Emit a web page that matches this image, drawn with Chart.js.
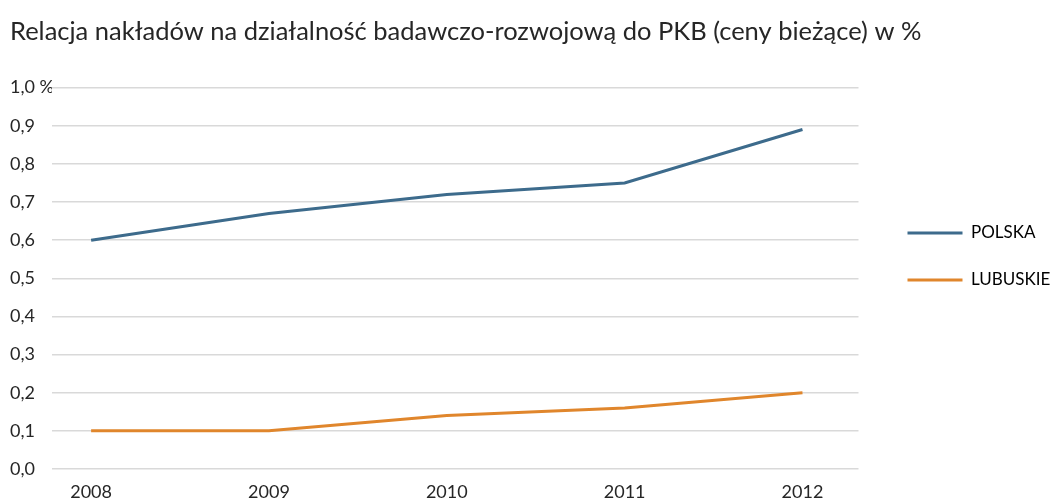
<!DOCTYPE html>
<html>
<head>
<meta charset="utf-8">
<script src="https://cdn.jsdelivr.net/npm/chart.js@4.4.1/dist/chart.umd.min.js"></script>
<style>
  html, body { margin: 0; padding: 0; background: #ffffff; }
  #wrap { width: 1054px; height: 499px; position: relative; }
</style>
</head>
<body>
<div id="wrap"><canvas id="c" width="1054" height="499"></canvas></div>
<script>
const titleText = 'Relacja nakładów na działalność badawczo-rozwojową do PKB (ceny bieżące) w %';
const years = [2008, 2009, 2010, 2011, 2012];
const polska = [0.60, 0.67, 0.72, 0.75, 0.89];
const lubuskie = [0.10, 0.10, 0.14, 0.16, 0.20];
const seriesNames = ['POLSKA', 'LUBUSKIE'];
const seriesColors = ['#3d6b8c', '#e0862c'];
const yTicks = [0, 0.1, 0.2, 0.3, 0.4, 0.5, 0.6, 0.7, 0.8, 0.9, 1.0];

const FONT = "Lato, sans-serif";
const toPts = vals => years.map((y, i) => ({ x: y, y: vals[i] }));

new Chart(document.getElementById('c'), {
  type: 'line',
  data: {
    datasets: [
      { label: seriesNames[0], data: toPts(polska), borderColor: seriesColors[0], backgroundColor: seriesColors[0], borderWidth: 3, pointRadius: 0, tension: 0 },
      { label: seriesNames[1], data: toPts(lubuskie), borderColor: seriesColors[1], backgroundColor: seriesColors[1], borderWidth: 3, pointRadius: 0, tension: 0 }
    ]
  },
  options: {
    responsive: false,
    animation: false,
    layout: { autoPadding: false, padding: { left: 10, right: 3, top: 14, bottom: 0 } },
    plugins: {
      title: {
        display: true, text: titleText, align: 'start', color: '#262626',
        font: { family: FONT, size: 25.5, weight: 'normal' },
        padding: { top: 2, bottom: 41 }
      },
      legend: {
        position: 'right',
        labels: {
          boxWidth: 55, boxHeight: 3, padding: 30, color: '#000000',
          font: { family: FONT, size: 17 },
          generateLabels: chart => Chart.defaults.plugins.legend.labels.generateLabels(chart).map(l => Object.assign(l, { lineWidth: 0 }))
        }
      },
      tooltip: { enabled: false }
    },
    scales: {
      x: {
        type: 'linear',
        min: 2007.78, max: 2012.315,
        afterBuildTicks: s => { s.ticks = years.map(v => ({ value: v })); },
        afterFit: s => { s.height = 30; },
        ticks: { color: '#262626', font: { family: FONT, size: 18, lineHeight: 1 }, padding: 14, maxRotation: 0, callback: v => String(v) },
        grid: { display: false, drawTicks: false },
        border: { display: false }
      },
      y: {
        min: 0, max: 1.0,
        afterBuildTicks: s => { s.ticks = yTicks.map(v => ({ value: v })); },
        afterFit: s => { s.width = 42; },
        ticks: {
          color: '#262626', crossAlign: 'far', font: { family: FONT, size: 18 }, padding: 6,
          callback: v => v.toFixed(1).replace('.', ',') + (Math.abs(v - 1) < 1e-9 ? ' %' : '')
        },
        grid: { color: '#d9d9d9', lineWidth: 1.5, drawTicks: false },
        border: { display: false }
      },
      gap: {
        position: 'right', display: true,
        afterFit: s => { s.width = 19; },
        ticks: { display: false }, grid: { display: false }, border: { display: false }
      }
    }
  }
});
</script>
</body>
</html>
